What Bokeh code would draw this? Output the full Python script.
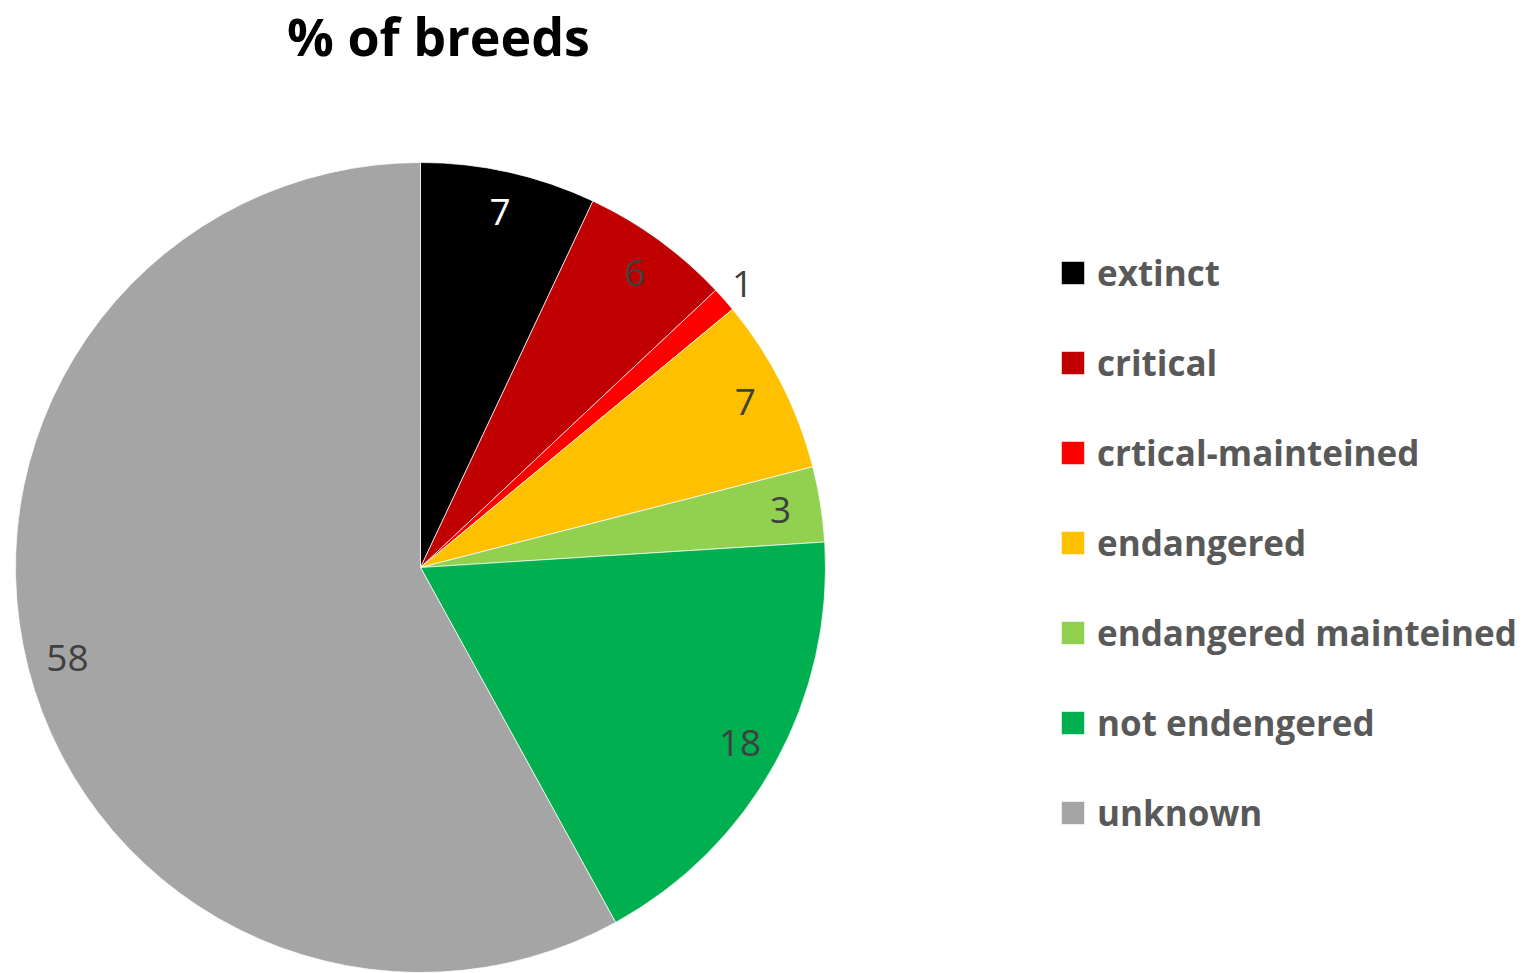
import math
from bokeh.plotting import figure
from bokeh.models import Range1d, ColumnDataSource, Legend, LegendItem
from bokeh.core.properties import value
from bokeh.embed import file_html
from bokeh.resources import INLINE

categories = ["extinct", "critical", "crtical-mainteined", "endangered",
              "endangered mainteined", "not endengered", "unknown"]
values = [7, 6, 1, 7, 3, 18, 58]
colors = ["#000000", "#C00000", "#FF0000", "#FFC000", "#92D050", "#00B050", "#A5A5A5"]
title_text = "% of breeds"

W, H = 1527, 973
cx, cy, R = 420, H - 567, 405

total = float(sum(values))
starts, ends, lx, ly, lcol = [], [], [], [], []
cum = 0.0
for v, c in zip(values, colors):
    f0 = cum / total
    f1 = (cum + v) / total
    cum += v
    starts.append(math.pi / 2 - 2 * math.pi * f0)
    ends.append(math.pi / 2 - 2 * math.pi * f1)
    mid = math.pi / 2 - 2 * math.pi * (f0 + f1) / 2
    rf = 1.06 if v / total < 0.02 else 0.9
    lx.append(cx + rf * R * math.cos(mid))
    ly.append(cy + rf * R * math.sin(mid))
    lcol.append("#FFFFFF" if c == "#000000" else "#404040")

src = ColumnDataSource(dict(cat=categories, val=values, col=colors,
                            start=starts, end=ends, lx=lx, ly=ly,
                            lab=[str(v) for v in values], lcol=lcol))

p = figure(width=W, height=H, x_range=Range1d(0, W), y_range=Range1d(0, H),
           output_backend="svg", toolbar_location=None, min_border=0,
           x_axis_location=None, y_axis_location=None)
p.grid.visible = False
p.outline_line_color = None

r = p.wedge(x=cx, y=cy, radius=R, start_angle="start", end_angle="end",
            direction="clock", fill_color="col", line_color="white",
            line_width=0.7, source=src)

p.text(x="lx", y="ly", text="lab", text_color="lcol", source=src,
       text_align="center", text_baseline="middle",
       text_font=value("Open Sans"), text_font_size="37px")

p.text(x=[438], y=[H - 35], text=[title_text], text_align="center",
       text_baseline="alphabetic", text_font=value("Open Sans"),
       text_font_style="bold", text_font_size="52px", text_color="#000000")

items = [LegendItem(label=cat, renderers=[r], index=i) for i, cat in enumerate(categories)]
legend = Legend(items=items, location=(1058, 137), padding=0, margin=0,
                glyph_width=29, glyph_height=29, label_height=43,
                spacing=43, label_standoff=10,
                label_text_font="Open Sans", label_text_font_style="bold",
                label_text_font_size="35px", label_text_color="#595959",
                border_line_color=None, background_fill_alpha=0)
p.add_layout(legend)

open("out.html", "w").write(file_html(p, INLINE))
